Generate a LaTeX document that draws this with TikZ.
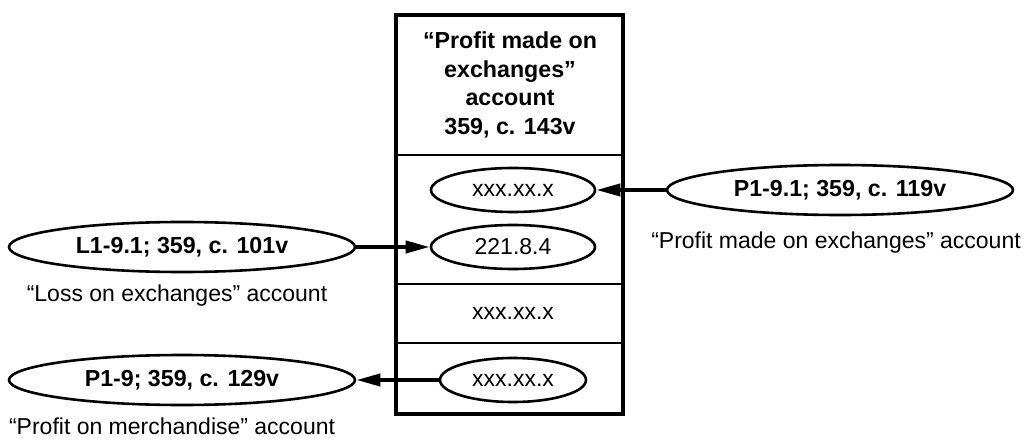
\documentclass[tikz,border=0pt]{standalone}
\usepackage{fontspec}
\setmainfont{Liberation Sans}
\usetikzlibrary{shapes.geometric,arrows.meta}
\begin{document}
\begin{tikzpicture}[x=0.5pt,y=-0.5pt,
  font=\fontsize{11.5pt}{14.35pt}\selectfont,
  acc/.style={ellipse, draw, line width=1.3pt, inner sep=0pt},
  ext/.style={acc, font=\fontsize{11.6pt}{14.35pt}\selectfont\bfseries, minimum width=173pt, minimum height=25pt},
  int/.style={acc, minimum width=82pt, minimum height=22pt},
  conn/.style={line width=1.9pt, -{Triangle[length=12pt,width=6pt]}},
  sep/.style={line width=1.4pt}]
\useasboundingbox (0,0) rectangle (1027,443);
\draw[line width=1.6pt] (396,15) rectangle (623,414);
\draw[sep] (396,155) -- (623,155);
\draw[sep] (396,284) -- (623,284);
\draw[sep] (396,343) -- (623,343);
\node[align=center, font=\fontsize{11.6pt}{14.35pt}\selectfont\bfseries] (hdr) at (510,85) {“Profit made on\\exchanges”\\account\\359, c. 143v};
\node[int] (e1) at (513,190) {xxx.xx.x};
\node[int] (e2) at (513,247) {221.8.4};
\node (e3) at (513,313) {xxx.xx.x};
\node[int, minimum width=73pt] (e4) at (513,380) {xxx.xx.x};
\node[ext] (r) at (840,190) {P1-9.1; 359, c. 119v};
\node (rl) at (836,243) {“Profit made on exchanges” account};
\node[ext] (l1) at (182,247) {L1-9.1; 359, c. 101v};
\node (l1l) at (177,296) {“Loss on exchanges” account};
\node[ext] (p) at (182,380) {P1-9; 359, c. 129v};
\node[anchor=west] (pl) at (2,426) {“Profit on merchandise” account};
\draw[conn] (r.west) -- (e1.east);
\draw[conn] (l1.east) -- (e2.west);
\draw[conn] (e4.west) -- (p.east);
\end{tikzpicture}
\end{document}
